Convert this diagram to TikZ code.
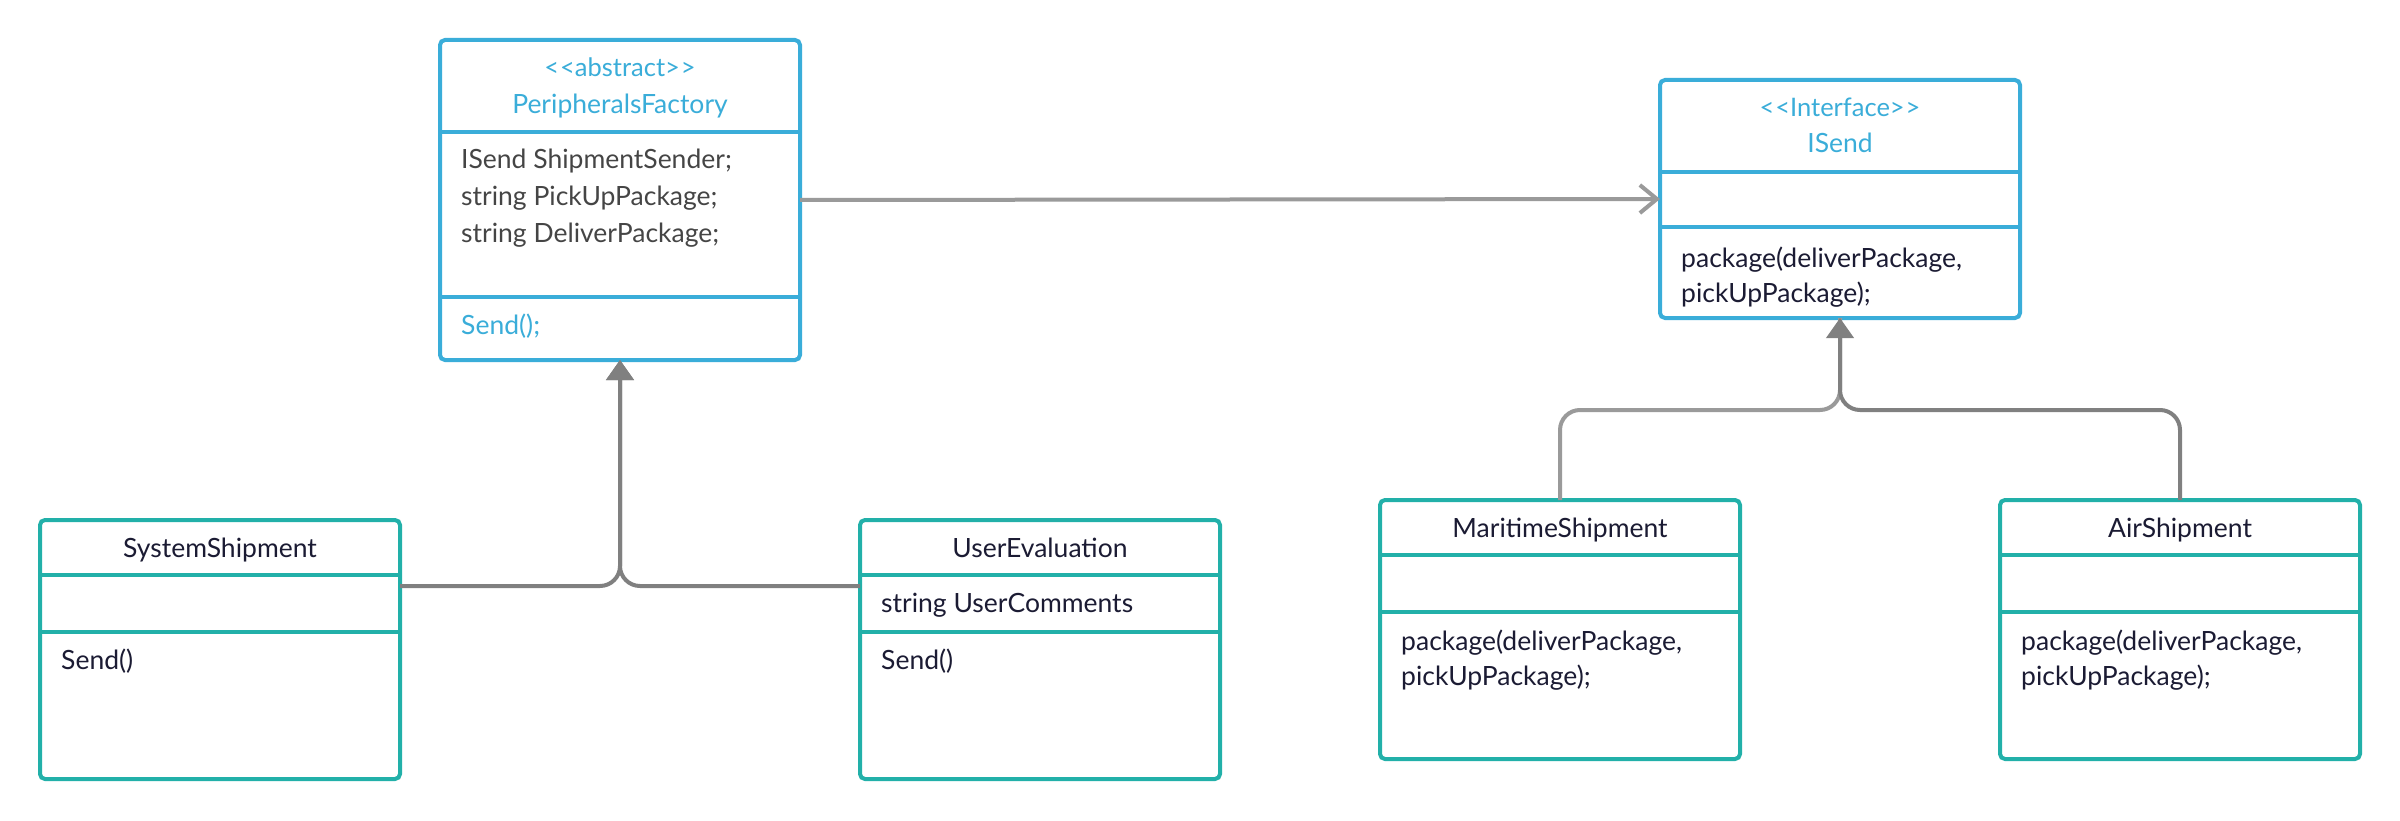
\documentclass[tikz,border=0pt]{standalone}
\usepackage{fontspec}
\setmainfont{Lato}
\usetikzlibrary{arrows.meta,calc}
\definecolor{ublue}{HTML}{3AADD9}
\definecolor{uteal}{HTML}{22B0A9}
\definecolor{utext}{HTML}{1B1B33}
\definecolor{ugrey}{HTML}{454545}
\definecolor{lline}{HTML}{9A9A9A}
\definecolor{dline}{HTML}{808080}
\tikzset{
  box/.style={draw, line width=4pt, rounded corners=5pt, anchor=north west, inner sep=0pt, outer sep=0pt, minimum width=360pt, fill=white},
  bluebox/.style={box, draw=ublue},
  tealbox/.style={box, draw=uteal},
  divb/.style={line width=4pt, draw=ublue},
  divt/.style={line width=4pt, draw=uteal},
  ctitle/.style={anchor=base, font=\fontsize{26.5}{32}\selectfont, text=utext, inner sep=0pt},
  btitle/.style={anchor=base, font=\fontsize{26.5}{32}\selectfont, text=ublue, inner sep=0pt},
  stereo/.style={anchor=base, font=\fontsize{25.5}{30}\selectfont, text=ublue, inner sep=0pt},
  member/.style={anchor=base west, font=\fontsize{26.5}{32}\selectfont, text=utext, inner sep=0pt},
  gmember/.style={member, text=ugrey},
  bmember/.style={member, text=ublue},
  assoc/.style={line width=4pt, draw=lline, -{Straight Barb[length=17pt, width=28pt, line width=4pt]}},
  inhL/.style={line width=4pt, draw=lline, rounded corners=20pt},
  inhR/.style={line width=4pt, draw=dline, rounded corners=20pt, -{Triangle[length=20pt, width=27pt, fill=dline]}},
}
\begin{document}
\begin{tikzpicture}[x=1pt,y=-1pt]
\useasboundingbox (0,0) rectangle (2400,821);
\fill[white] (0,0) rectangle (2400,821);

% PeripheralsFactory
\node[bluebox, minimum height=320pt] (pf) at (440,40) {};
\draw[divb] (pf.west |- 0,132) -- (pf.east |- 0,132);
\draw[divb] (pf.west |- 0,297) -- (pf.east |- 0,297);
\node[stereo] (pfs) at (620,77) {{<}\kern1pt{<}abstract{>}\kern1pt{>}};
\node[btitle] (pft) at (620,114) {PeripheralsFactory};
\node[gmember] (pfa1) at (461,169) {ISend ShipmentSender;};
\node[gmember] (pfa2) at (461,205) {string PickUpPackage;};
\node[gmember] (pfa3) at (461,242) {string DeliverPackage;};
\node[bmember] (pfm1) at (461,334) {Send();};

% ISend
\node[bluebox, minimum height=238pt] (is) at (1660,80) {};
\draw[divb] (is.west |- 0,172) -- (is.east |- 0,172);
\draw[divb] (is.west |- 0,227) -- (is.east |- 0,227);
\node[stereo] (iss) at (1840,117) {{<}\kern1pt{<}Interface{>}\kern1pt{>}};
\node[btitle] (ist) at (1840,153) {ISend};
\node[member] (ism1) at (1681,267) {package(deliverPackage,};
\node[member] (ism2) at (1681,302) {pickUpPackage);};

% SystemShipment
\node[tealbox, minimum height=259pt] (ss) at (40,520) {};
\draw[divt] (ss.west |- 0,575) -- (ss.east |- 0,575);
\draw[divt] (ss.west |- 0,632) -- (ss.east |- 0,632);
\node[ctitle] (sst) at (220,557) {SystemShipment};
\node[member] (ssm) at (61,669) {Send()};

% UserEvaluation
\node[tealbox, minimum height=259pt] (ue) at (860,520) {};
\draw[divt] (ue.west |- 0,575) -- (ue.east |- 0,575);
\draw[divt] (ue.west |- 0,632) -- (ue.east |- 0,632);
\node[ctitle] (uet) at (1040,557) {UserEvaluation};
\node[member] (uea) at (881,612) {string UserComments};
\node[member] (uem) at (881,669) {Send()};

% MaritimeShipment
\node[tealbox, minimum height=259pt] (ms) at (1380,500) {};
\draw[divt] (ms.west |- 0,555) -- (ms.east |- 0,555);
\draw[divt] (ms.west |- 0,612) -- (ms.east |- 0,612);
\node[ctitle] (mst) at (1560,537) {MaritimeShipment};
\node[member] (msm1) at (1401,650) {package(deliverPackage,};
\node[member] (msm2) at (1401,685) {pickUpPackage);};

% AirShipment
\node[tealbox, minimum height=259pt] (as) at (2000,500) {};
\draw[divt] (as.west |- 0,555) -- (as.east |- 0,555);
\draw[divt] (as.west |- 0,612) -- (as.east |- 0,612);
\node[ctitle] (ast) at (2180,537) {AirShipment};
\node[member] (asm1) at (2021,650) {package(deliverPackage,};
\node[member] (asm2) at (2021,685) {pickUpPackage);};

% connectors
\coordinate (j1) at (620,586);
\coordinate (j2) at (1840,410);

\draw[assoc] (pf.east) -- (is.west);

\draw[inhR] (ss.east |- j1) -- (j1) -- (pf.south);
\draw[inhR] (ue.west |- j1) -- (j1) -- (pf.south);

\draw[inhL] (ms.north) -- (ms.north |- j2) -- (j2) -- (is.south);
\draw[inhR] (as.north) -- (as.north |- j2) -- (j2) -- (is.south);
\end{tikzpicture}
\end{document}
